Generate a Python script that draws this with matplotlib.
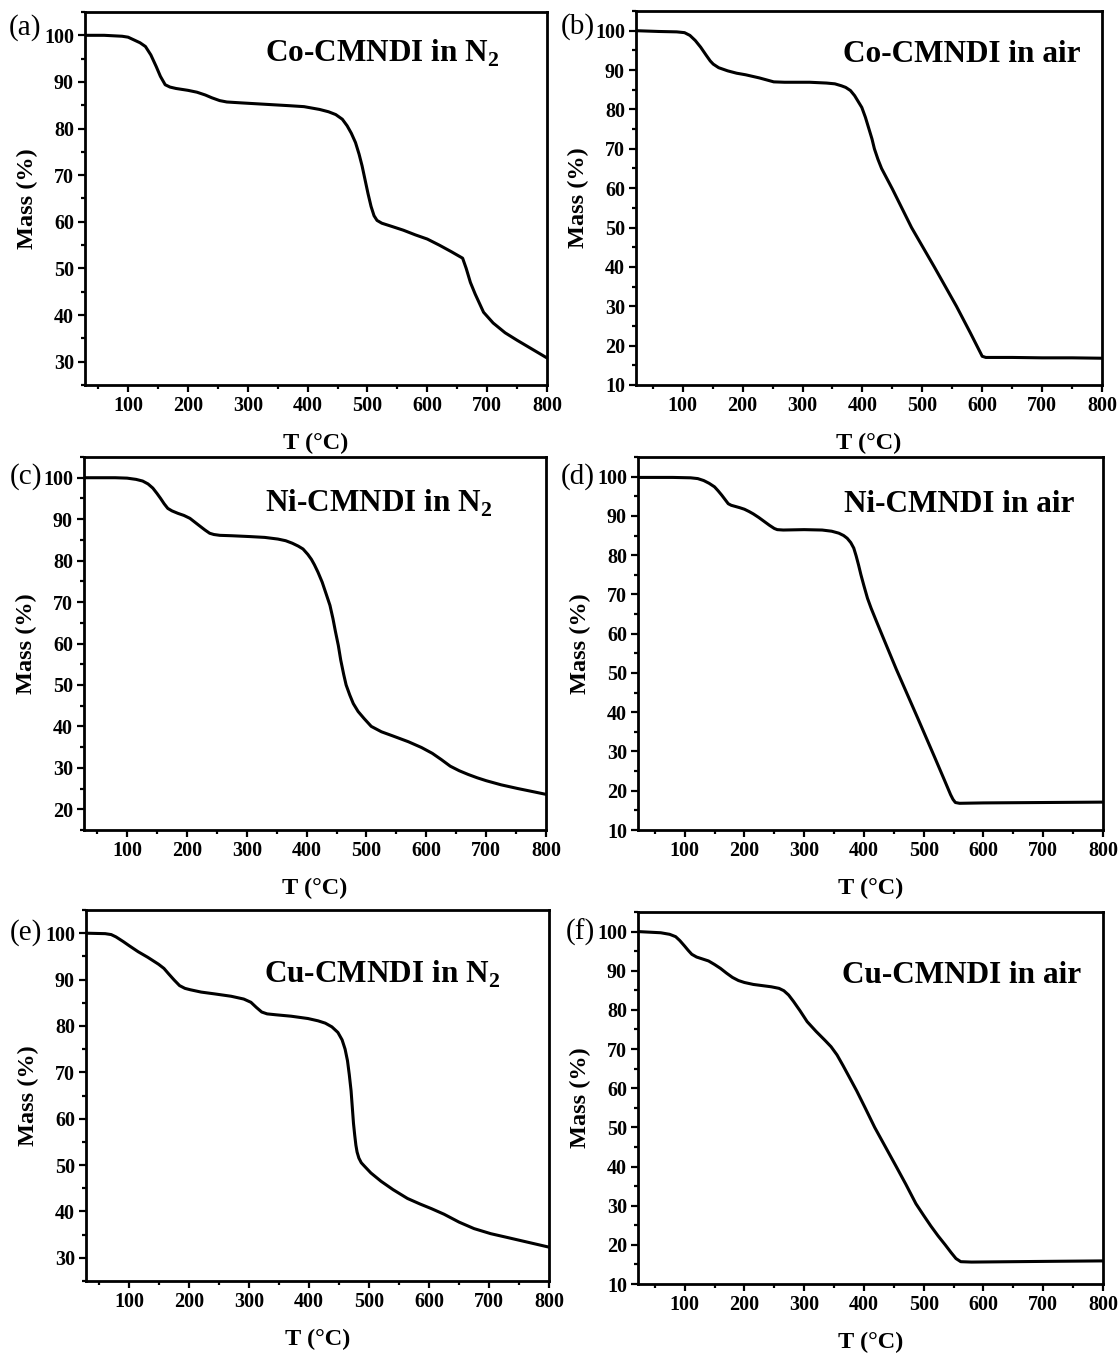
import matplotlib
matplotlib.use("Agg")
import matplotlib.pyplot as plt
from matplotlib.ticker import MultipleLocator

plt.rcParams['font.family'] = ['Liberation Serif', 'DejaVu Serif']
plt.rcParams['mathtext.fontset'] = 'custom'
plt.rcParams['mathtext.rm'] = 'Liberation Serif'
plt.rcParams['mathtext.bf'] = 'Liberation Serif:bold'

# (a) Co-CMNDI in N2
a_T = [28, 60, 90, 100, 110, 120, 129, 138, 147, 154, 162, 170, 180, 190, 200, 215, 229, 240, 253, 265,
       290, 330, 370, 394, 420, 435, 447, 458, 466, 473, 480, 486, 491, 496, 501, 506, 511, 516, 524, 541,
       560, 580, 600, 620, 640, 659, 665, 672, 680, 694, 710, 730, 750, 775, 800]
a_M = [100, 100, 99.8, 99.6, 99.0, 98.4, 97.6, 95.8, 93.3, 91.2, 89.4, 88.9, 88.6, 88.4, 88.2, 87.8, 87.2, 86.6, 86.0, 85.7,
       85.5, 85.2, 84.9, 84.7, 84.1, 83.6, 83.0, 82.0, 80.6, 79.0, 77.0, 74.5, 72.0, 69.0, 66.0, 63.3, 61.3, 60.3, 59.7, 59.0,
       58.2, 57.2, 56.3, 55.0, 53.6, 52.2, 50.0, 47.0, 44.5, 40.6, 38.3, 36.2, 34.6, 32.7, 30.8]

# (b) Co-CMNDI in air
b_T = [22, 60, 90, 103, 112, 121, 130, 139, 146, 151, 160, 175, 190, 205, 228, 252, 270, 312, 340, 354,
       365, 372, 380, 387, 393, 399, 405, 410, 416, 420, 426, 432, 450, 482, 520, 557, 580, 596, 600, 606,
       650, 700, 750, 800]
b_M = [100, 99.8, 99.7, 99.5, 98.8, 97.5, 95.8, 93.8, 92.3, 91.5, 90.6, 89.8, 89.2, 88.8, 88.0, 87.0, 86.9, 86.9, 86.7, 86.5,
       86.0, 85.6, 84.8, 83.5, 82.0, 80.5, 78.0, 75.5, 72.5, 70.0, 67.3, 65.0, 59.8, 50.0, 40.0, 30.0, 23.3, 18.5, 17.3, 17.0,
       17.0, 16.9, 16.9, 16.8]

# (c) Ni-CMNDI in N2
c_T = [28, 80, 100, 115, 126, 135, 143, 150, 156, 162, 168, 175, 185, 195, 205, 213, 221, 230, 238, 245,
       255, 275, 305, 330, 352, 365, 376, 386, 394, 402, 408, 413, 419, 426, 433, 439, 444, 448, 453, 457,
       462, 466, 472, 478, 486, 496, 508, 525, 544, 570, 592, 610, 625, 640, 655, 670, 685, 700, 725, 753,
       780, 800]
c_M = [100, 100, 99.9, 99.6, 99.2, 98.5, 97.5, 96.2, 95.0, 93.7, 92.6, 92.0, 91.4, 90.9, 90.2, 89.3, 88.4, 87.4, 86.6, 86.3,
       86.1, 86.0, 85.8, 85.6, 85.2, 84.8, 84.2, 83.5, 82.8, 81.5, 80.3, 79.0, 77.2, 74.8, 71.8, 69.2, 66.0, 63.0, 59.5, 56.0,
       52.5, 50.0, 47.6, 45.5, 43.6, 41.9, 40.0, 38.7, 37.7, 36.3, 34.9, 33.5, 32.0, 30.4, 29.3, 28.4, 27.6, 26.9, 25.9, 25.0,
       24.2, 23.6]

# (d) Ni-CMNDI in air
d_T = [22, 80, 110, 122, 132, 141, 150, 156, 162, 168, 173, 178, 185, 192, 200, 208, 215, 224, 233, 242,
       250, 255, 265, 300, 330, 346, 358, 366, 372, 378, 383, 387, 391, 395, 400, 406, 412, 420, 430, 454,
       490, 519, 535, 545, 549, 553, 560, 600, 700, 800]
d_M = [99.8, 99.8, 99.7, 99.5, 99.0, 98.3, 97.4, 96.4, 95.3, 94.1, 93.1, 92.7, 92.4, 92.1, 91.7, 91.1, 90.5, 89.6, 88.6, 87.6,
       86.8, 86.5, 86.4, 86.5, 86.4, 86.1, 85.6, 85.0, 84.3, 83.2, 81.8, 79.8, 77.5, 75.0, 72.2, 69.0, 66.5, 63.5, 59.8, 51.0,
       38.5, 28.3, 22.6, 19.0, 17.8, 17.0, 16.8, 16.9, 17.0, 17.1]

# (e) Cu-CMNDI in N2
e_T = [28, 60, 70, 78, 90, 100, 115, 131, 149, 158, 166, 175, 184, 193, 202, 220, 243, 270, 291, 303,
       312, 321, 330, 345, 370, 398, 415, 427, 438, 448, 455, 460, 464, 467, 470, 472, 474, 476, 478, 480,
       483, 487, 492, 503, 520, 540, 564, 585, 604, 625, 650, 675, 703, 730, 760, 800]
e_M = [100, 99.9, 99.7, 99.2, 98.2, 97.3, 96.0, 94.8, 93.3, 92.4, 91.2, 89.9, 88.7, 88.1, 87.8, 87.3, 86.9, 86.4, 85.8, 85.1,
       84.0, 83.0, 82.6, 82.4, 82.1, 81.6, 81.1, 80.6, 79.8, 78.6, 77.0, 75.0, 72.5, 69.5, 66.0, 62.5, 59.0, 56.5, 54.3, 52.8,
       51.5, 50.5, 49.8, 48.3, 46.5, 44.7, 42.8, 41.6, 40.6, 39.4, 37.7, 36.3, 35.2, 34.4, 33.5, 32.3]

# (f) Cu-CMNDI in air
f_T = [22, 60, 75, 85, 92, 100, 106, 112, 120, 130, 140, 150, 160, 170, 180, 190, 200, 215, 230, 245,
       258, 266, 274, 282, 293, 305, 320, 335, 345, 355, 365, 376, 388, 402, 418, 436, 454, 470, 487, 500,
       512, 524, 536, 546, 554, 562, 580, 650, 720, 800]
f_M = [100, 99.7, 99.3, 98.7, 97.7, 96.3, 95.2, 94.2, 93.5, 93.0, 92.5, 91.6, 90.6, 89.4, 88.3, 87.5, 87.0, 86.5, 86.2, 85.9,
       85.5, 84.9, 83.8, 82.2, 79.8, 77.0, 74.5, 72.2, 70.6, 68.5, 65.8, 62.7, 59.3, 55.0, 50.0, 45.0, 40.0, 35.5, 30.5, 27.5,
       24.8, 22.3, 20.0, 18.0, 16.5, 15.7, 15.6, 15.7, 15.8, 15.9]

W, H = 1119, 1356

panels = [
    # box (left, top, right, bottom) px, T, M, xlim, ylim, title, title pos, tag, tag pos
    ((85, 12, 547, 385), a_T, a_M, (28, 800), (25, 105), 'Co-CMNDI in N$_\\mathbf{2}$', (0.898, 0.866), '(a)', (25, 28)),
    ((636, 11, 1102, 385), b_T, b_M, (22, 800), (10, 105), 'Co-CMNDI in air', (0.953, 0.864), '(b)', (578, 27)),
    ((84, 457, 546, 830), c_T, c_M, (28, 800), (15, 105), 'Ni-CMNDI in N$_\\mathbf{2}$', (0.885, 0.853), '(c)', (26, 477)),
    ((638, 457, 1103, 830), d_T, d_M, (22, 800), (10, 105), 'Ni-CMNDI in air', (0.938, 0.853), '(d)', (578, 477)),
    ((86, 910, 549, 1281), e_T, e_M, (28, 800), (25, 105), 'Cu-CMNDI in N$_\\mathbf{2}$', (0.894, 0.803), '(e)', (26, 933)),
    ((638, 912, 1103, 1284), f_T, f_M, (22, 800), (10, 105), 'Cu-CMNDI in air', (0.953, 0.809), '(f)', (580, 932)),
]

fig = plt.figure(figsize=(W / 100, H / 100), dpi=100)

for box, T, M, xlim, ylim, title, tpos, tag, tagpos in panels:
    l, t, r, b = box
    ax = fig.add_axes([l / W, 1 - b / H, (r - l) / W, (b - t) / H])
    ax.plot(T, M, color='black', lw=2.2, solid_joinstyle='round')
    ax.set_xlim(*xlim)
    ax.set_ylim(*ylim)
    ax.xaxis.set_major_locator(MultipleLocator(100))
    ax.xaxis.set_minor_locator(MultipleLocator(50))
    ax.yaxis.set_major_locator(MultipleLocator(10))
    ax.yaxis.set_minor_locator(MultipleLocator(5))
    ax.tick_params(which='both', direction='out', width=1.6, top=False, right=False)
    ax.tick_params(which='major', length=5, labelsize=14.5, pad=3)
    ax.tick_params(which='minor', length=3)
    for lab in ax.get_xticklabels() + ax.get_yticklabels():
        lab.set_fontweight('bold')
    for sp in ax.spines.values():
        sp.set_linewidth(2.0)
    ax.set_xlabel('T (°C)', fontsize=17.5, fontweight='bold', labelpad=12)
    ax.set_ylabel('Mass (%)', fontsize=17.5, fontweight='bold', labelpad=4)
    ax.text(tpos[0], tpos[1], title, transform=ax.transAxes, ha='right', va='baseline',
            fontsize=22.5, fontweight='bold')
    fig.text(tagpos[0] / W, 1 - tagpos[1] / H, tag, ha='center', va='center', fontsize=21)

fig.savefig('out.png', dpi=100)
